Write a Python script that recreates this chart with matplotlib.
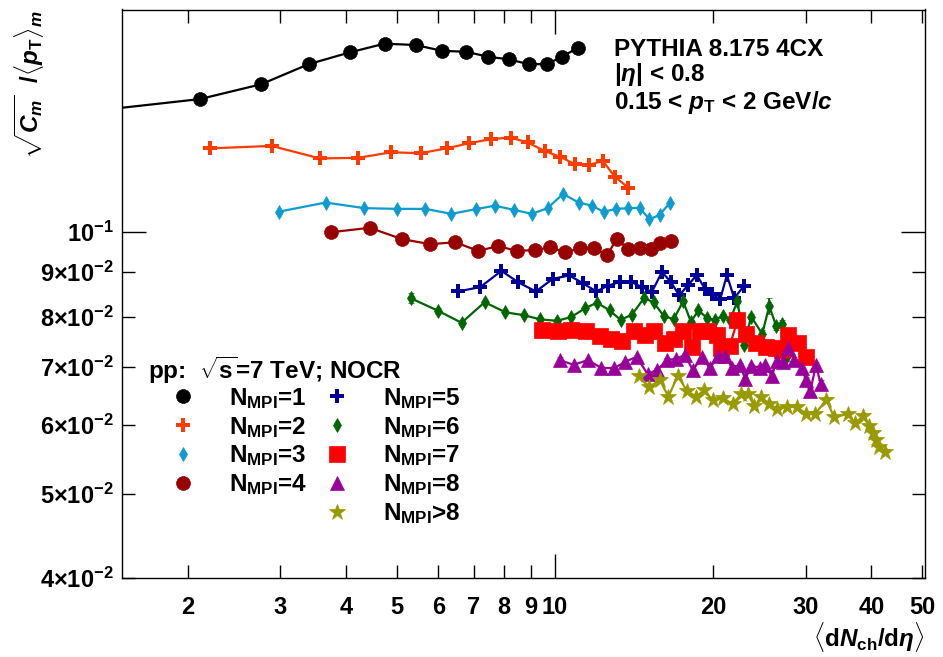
import numpy as np
import matplotlib
matplotlib.use("Agg")
import matplotlib.pyplot as plt
from matplotlib.lines import Line2D
from matplotlib.ticker import FixedLocator, NullFormatter, FixedFormatter

plt.rcParams['font.family'] = ['Liberation Sans', 'DejaVu Sans']
plt.rcParams['font.weight'] = 'bold'
plt.rcParams['mathtext.fontset'] = 'custom'
plt.rcParams['mathtext.rm'] = 'Liberation Sans:bold'
plt.rcParams['mathtext.bf'] = 'Liberation Sans:bold'
plt.rcParams['mathtext.it'] = 'Liberation Sans:italic:bold'

# N_MPI = 1 (first point lies left of the frame)
x1 = [1.2, 2.11, 2.76, 3.40, 4.08, 4.74, 5.43, 6.10, 6.77, 7.46, 8.16, 8.91, 9.66, 10.31, 11.06]
y1 = [0.1370, 0.1423, 0.1480, 0.1561, 0.1611, 0.1648, 0.1642, 0.1617, 0.1613, 0.1592, 0.1581,
      0.1561, 0.1561, 0.1592, 0.1630]
# N_MPI = 2
x2 = [2.21, 2.89, 3.57, 4.22, 4.88, 5.55, 6.22, 6.87, 7.56, 8.23, 8.87, 9.56, 10.24, 10.93,
      11.59, 12.34, 12.99, 13.80]
y2 = [0.1249, 0.1257, 0.1216, 0.1218, 0.1236, 0.1233, 0.1249, 0.1266, 0.1280, 0.1285, 0.1269,
      0.1240, 0.1221, 0.1197, 0.1195, 0.1208, 0.1159, 0.1125]
# N_MPI = 3
x3 = [2.98, 3.66, 4.34, 5.01, 5.67, 6.35, 7.06, 7.68, 8.37, 9.04, 9.68, 10.36, 11.09, 11.76,
      12.37, 13.08, 13.77, 14.49, 15.13, 15.81, 16.52]
y3 = [0.1056, 0.1082, 0.1066, 0.1064, 0.1064, 0.1050, 0.1063, 0.1073, 0.1061, 0.1050, 0.1066,
      0.1107, 0.1082, 0.1073, 0.1056, 0.1064, 0.1066, 0.1067, 0.1035, 0.1047, 0.1080]
# N_MPI = 4
x4 = [3.74, 4.44, 5.12, 5.79, 6.46, 7.14, 7.79, 8.47, 9.15, 9.80, 10.46, 11.14, 11.85, 12.56,
      13.12, 13.80, 14.53, 15.22, 15.86, 16.62]
y4 = [0.1000, 0.1012, 0.0982, 0.0969, 0.0974, 0.0952, 0.0964, 0.0952, 0.0954, 0.0961, 0.0948,
      0.0958, 0.0958, 0.0942, 0.0982, 0.0956, 0.0958, 0.0956, 0.0971, 0.0977]
# N_MPI = 5
x5 = [6.54, 7.21, 7.91, 8.51, 9.20, 9.90, 10.65, 11.29, 11.99, 12.60, 13.31, 13.97, 14.63,
      15.29, 15.98, 16.61, 17.24, 17.93, 18.62, 19.31, 19.94, 20.62, 21.24, 21.93, 22.91]
y5 = [0.0855, 0.0865, 0.0903, 0.0876, 0.0855, 0.0884, 0.0892, 0.0874, 0.0855, 0.0868, 0.0877,
      0.0877, 0.0865, 0.0854, 0.0900, 0.0877, 0.0846, 0.0870, 0.0893, 0.0860, 0.0849, 0.0837,
      0.0893, 0.0840, 0.0868]
# N_MPI = 6
x6 = [5.31, 6.00, 6.64, 7.35, 8.05, 8.72, 9.38, 10.09, 10.74, 11.42, 12.02, 12.71, 13.33, 14.01,
      14.77, 15.40, 16.09, 16.81, 17.54, 18.14, 18.75, 19.51, 20.12, 20.87, 21.55, 22.25, 22.91,
      23.62, 24.80, 25.57, 26.36, 27.06, 27.65]
y6 = [0.0840, 0.0812, 0.0787, 0.0831, 0.0809, 0.0803, 0.0794, 0.0791, 0.0799, 0.0818, 0.0830,
      0.0813, 0.0793, 0.0804, 0.0840, 0.0831, 0.0802, 0.0794, 0.0833, 0.0789, 0.0813, 0.0796,
      0.0793, 0.0801, 0.0793, 0.0834, 0.0742, 0.0800, 0.0764, 0.0823, 0.0780, 0.0784, 0.0721]
e6 = [0.0011, 0.0007, 0.0005, 0.0003, 0.0003, 0.0003, 0.0003, 0.0003, 0.0003, 0.0003, 0.0003,
      0.0003, 0.0003, 0.0003, 0.0004, 0.0004, 0.0004, 0.0004, 0.0004, 0.0004, 0.0004, 0.0005,
      0.0005, 0.0005, 0.0005, 0.0005, 0.0006, 0.0006, 0.0008, 0.0017, 0.0007, 0.0008, 0.0009]
# N_MPI = 7
x7 = [9.45, 10.13, 10.74, 11.48, 12.20, 12.80, 13.43, 14.15, 14.82, 15.43, 16.21, 16.87, 17.54,
      18.22, 18.85, 19.54, 20.32, 20.70, 21.50, 22.25, 23.06, 24.14, 25.23, 26.36, 27.06, 27.82,
      29.06, 30.06]
y7 = [0.0772, 0.0769, 0.0773, 0.0769, 0.0759, 0.0753, 0.0750, 0.0771, 0.0761, 0.0769, 0.0745,
      0.0754, 0.0770, 0.0739, 0.0770, 0.0769, 0.0762, 0.0736, 0.0740, 0.0792, 0.0764, 0.0745,
      0.0739, 0.0736, 0.0732, 0.0762, 0.0745, 0.0719]
# N_MPI = 8
x8 = [10.21, 10.85, 11.56, 12.26, 12.98, 13.61, 14.30, 15.01, 15.67, 16.33, 17.01, 17.67, 18.30,
      19.04, 19.71, 20.47, 21.08, 21.71, 22.51, 23.01, 23.65, 24.55, 25.13, 25.86, 26.43, 27.14,
      27.82, 28.51, 29.46, 30.06, 30.59, 31.40, 32.02]
y8 = [0.0713, 0.0704, 0.0713, 0.0698, 0.0698, 0.0710, 0.0719, 0.0687, 0.0695, 0.0713, 0.0715,
      0.0723, 0.0694, 0.0719, 0.0698, 0.0721, 0.0721, 0.0699, 0.0704, 0.0678, 0.0702, 0.0699,
      0.0704, 0.0684, 0.0711, 0.0710, 0.0737, 0.0713, 0.0698, 0.0676, 0.0656, 0.0704, 0.0669]
e8 = [0.0006, 0.0004, 0.0004, 0.0003, 0.0003, 0.0003, 0.0003, 0.0003, 0.0003, 0.0003, 0.0003,
      0.0003, 0.0003, 0.0003, 0.0003, 0.0003, 0.0003, 0.0004, 0.0004, 0.0004, 0.0004, 0.0004,
      0.0004, 0.0004, 0.0005, 0.0005, 0.0005, 0.0005, 0.0005, 0.0006, 0.0006, 0.0006, 0.0007]
# N_MPI > 8
x9 = [14.42, 15.11, 15.84, 16.44, 17.12, 17.83, 18.57, 19.20, 20.00, 20.90, 21.78, 22.62, 23.31,
      23.95, 24.70, 25.57, 26.47, 27.62, 28.85, 30.06, 31.26, 32.84, 33.96, 36.16, 37.24, 38.62,
      39.65, 40.30, 40.83, 41.36, 42.46]
y9 = [0.0684, 0.0664, 0.0676, 0.0647, 0.0684, 0.0657, 0.0647, 0.0658, 0.0641, 0.0644, 0.0635,
      0.0651, 0.0651, 0.0631, 0.0646, 0.0635, 0.0626, 0.0630, 0.0630, 0.0618, 0.0618, 0.0642,
      0.0613, 0.0618, 0.0603, 0.0615, 0.0598, 0.0588, 0.0577, 0.0567, 0.0559]
e9 = [0.0005, 0.0003, 0.0003, 0.0003, 0.0003, 0.0003, 0.0003, 0.0003, 0.0003, 0.0003, 0.0003,
      0.0003, 0.0003, 0.0003, 0.0003, 0.0003, 0.0003, 0.0003, 0.0003, 0.0003, 0.0003, 0.0004,
      0.0004, 0.0004, 0.0004, 0.0004, 0.0004, 0.0005, 0.0005, 0.0005, 0.0005]

labels = [r'N$_{\mathrm{MPI}}$=1', r'N$_{\mathrm{MPI}}$=2', r'N$_{\mathrm{MPI}}$=3',
          r'N$_{\mathrm{MPI}}$=4', r'N$_{\mathrm{MPI}}$=5', r'N$_{\mathrm{MPI}}$=6',
          r'N$_{\mathrm{MPI}}$=7', r'N$_{\mathrm{MPI}}$=8', r'N$_{\mathrm{MPI}}$>8']

xtick_vals = [2, 3, 4, 5, 6, 7, 8, 9, 10, 20, 30, 40, 50]
xtick_labels = ['2', '3', '4', '5', '6', '7', '8', '9', '10', '20', '30', '40', '50']
ytick_vals = [0.04, 0.05, 0.06, 0.07, 0.08, 0.09, 0.1]
ytick_labels = [r'$\mathbf{4{\times}10^{-2}}$', r'$\mathbf{5{\times}10^{-2}}$',
                r'$\mathbf{6{\times}10^{-2}}$', r'$\mathbf{7{\times}10^{-2}}$',
                r'$\mathbf{8{\times}10^{-2}}$', r'$\mathbf{9{\times}10^{-2}}$',
                r'$\mathbf{10^{-1}}$']

series = [
    (x1, y1, None, 'black', 'o', 10),
    (x2, y2, None, '#ff3b00', 'P', 10),
    (x3, y3, None, '#0e9bd0', 'd', 7.5),
    (x4, y4, None, '#990000', 'o', 10),
    (x5, y5, None, '#000099', 'P', 10),
    (x6, y6, e6, '#006600', 'd', 7.5),
    (x7, y7, None, '#ff0000', 's', 11),
    (x8, y8, e8, '#990099', '^', 10),
    (x9, y9, e9, '#999900', '*', 12),
]

fig = plt.figure(figsize=(9.43, 6.57), dpi=100)
ax = fig.add_axes([122 / 943, 1 - 578.3 / 657, (925 - 122) / 943, (578.3 - 9.5) / 657])

handles = []
for xs, ys, es, col, mk, ms in series:
    ax.errorbar(xs, ys, yerr=es, color=col, marker=mk, markersize=ms, lw=1.6,
                elinewidth=1.2, capsize=2, markeredgewidth=0.5 if mk != 'P' else 0)
    handles.append(Line2D([], [], ls='none', color=col, marker=mk, markersize=ms,
                          markeredgewidth=0.5 if mk != 'P' else 0))

ax.set_xscale('log')
ax.set_yscale('log')
ax.set_xlim(1.5, 50.6)
ax.set_ylim(0.04, 0.1804)

ax.xaxis.set_major_locator(FixedLocator([10]))
ax.xaxis.set_major_formatter(FixedFormatter(['10']))
ax.xaxis.set_minor_locator(FixedLocator([v for v in xtick_vals if v != 10]))
ax.xaxis.set_minor_formatter(FixedFormatter([l for l in xtick_labels if l != '10']))
ax.yaxis.set_major_locator(FixedLocator([0.1]))
ax.yaxis.set_major_formatter(FixedFormatter([ytick_labels[-1]]))
ax.yaxis.set_minor_locator(FixedLocator(ytick_vals[:-1]))
ax.yaxis.set_minor_formatter(FixedFormatter(ytick_labels[:-1]))

ax.tick_params(which='both', direction='in', top=True, right=True, labelsize=17)
ax.tick_params(which='major', length=17, width=1)
ax.tick_params(which='minor', length=9.5, width=1)
ax.tick_params(axis='x', which='both', pad=13)
ax.tick_params(axis='y', which='both', pad=6)
for s in ax.spines.values():
    s.set_linewidth(1.0)

fs = 17.5
fig.text(614 / 943, 1 - 49 / 657, 'PYTHIA 8.175 4CX', fontsize=17.5, va='center')
fig.text(614 / 943, 1 - 75 / 657, r'$|\eta|$ < 0.8', fontsize=17.5, va='center')
fig.text(614 / 943, 1 - 102 / 657, r'0.15 < $p_{\mathrm{T}}$ < 2 GeV/$c$', fontsize=17.5,
         va='center')

fig.text(148 / 943, 1 - 370 / 657, r'pp:  $\sqrt{\mathrm{s}}$=7 TeV; NOCR', fontsize=fs,
         va='center')

blank = Line2D([], [], ls='none')
leg_handles = handles[:4] + [blank] + handles[4:]
leg_labels = labels[:4] + [''] + labels[4:]
ax.legend(leg_handles, leg_labels, ncol=2, frameon=False, fontsize=fs,
          loc='upper left', bbox_to_anchor=(171 / 943, 1 - 386 / 657),
          bbox_transform=fig.transFigure, borderpad=0, borderaxespad=0,
          handlelength=1.0, handletextpad=1.4, columnspacing=0.7, labelspacing=0.16)

fig.text(30 / 943, 1 - 10 / 657, r'$\sqrt{C_m}\ \ /\langle p_{\mathrm{T}}\rangle_m$',
         fontsize=fs, rotation=90, va='top', ha='center')
fig.text(925 / 943, 1 - 620 / 657, r'$\langle \mathrm{d}N_{\mathrm{ch}}/\mathrm{d}\eta\rangle$',
         fontsize=fs, ha='right', va='top')

fig.savefig('out.png', dpi=100)
